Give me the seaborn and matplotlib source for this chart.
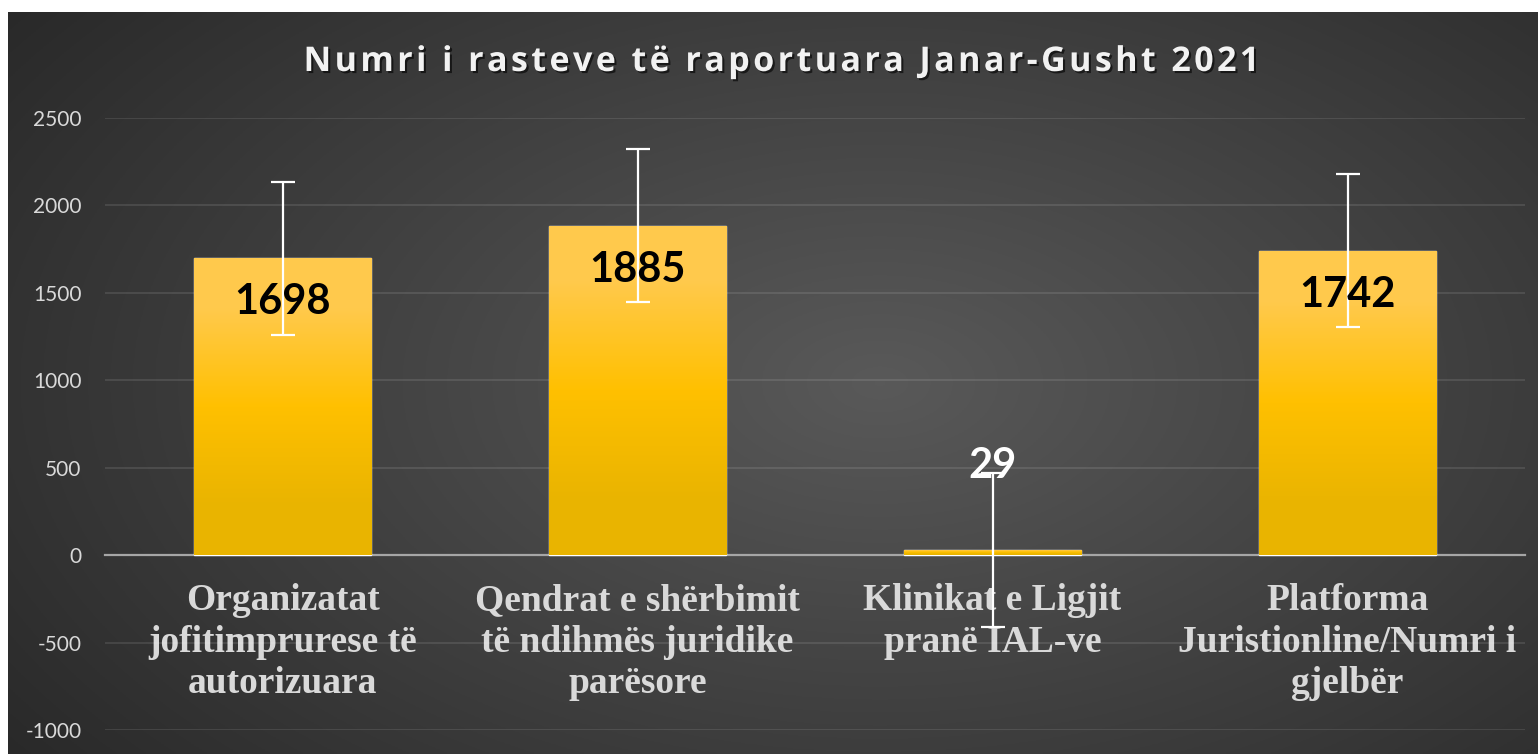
import numpy as np
import pandas as pd
import matplotlib.pyplot as plt
import matplotlib.patheffects as pe
import seaborn as sns

# data
categories = [
    'Organizatat\njofitimprurese të\nautorizuara',
    'Qendrat e shërbimit\ntë ndihmës juridike\nparësore',
    'Klinikat e Ligjit\npranë IAL-ve',
    'Platforma\nJuristionline/Numri i\ngjelbër',
]
values = [1698, 1885, 29, 1742]
errors = [438, 438, 438, 438]  # standard error bars, same for each bar
y_ticks = [-1000, -500, 0, 500, 1000, 1500, 2000, 2500]
title = 'Numri i rasteve të raportuara Janar-Gusht 2021'

sns.set_style('dark')
plt.rcParams['font.family'] = ['Lato', 'DejaVu Sans']
plt.rcParams['axes.unicode_minus'] = False

W, H = 1538, 754
fig = plt.figure(figsize=(W / 100, H / 100), dpi=100, facecolor='white')

# dark radial background of the chart area
bg = fig.add_axes([8 / W, 0, 1 - 8 / W, 1 - 12 / H], zorder=-1)
yy, xx = np.mgrid[0:1:300j, 0:1:600j]
d = np.sqrt(((xx - 0.57) / 0.75) ** 2 + ((yy - 0.5) / 0.9) ** 2)
g = np.clip(0.35 - 0.2 * d, 0.15, 0.4)
bg.imshow(np.dstack([g, g, g]), aspect='auto', extent=[0, 1, 0, 1], origin='lower')
bg.axis('off')

ax = fig.add_axes([105 / W, 1 - 730 / H, 1420 / W, 612 / H])
ax.patch.set_alpha(0)

df = pd.DataFrame({'kategoria': categories, 'raste': values})
sns.barplot(data=df, x='kategoria', y='raste', width=0.5, color='#ffc000',
            saturation=1, errorbar=None, ax=ax, zorder=3)

# gold gradient on each bar
grad = np.array([[0.914, 0.706, 0.0], [1.0, 0.753, 0.0], [1.0, 0.79, 0.30]])
for p in ax.patches:
    x0, y0, w, h = p.get_x(), p.get_y(), p.get_width(), p.get_height()
    im = ax.imshow(grad[:, None, :], extent=[x0, x0 + w, y0, y0 + h], origin='lower',
                   aspect='auto', interpolation='bilinear', zorder=3.1)
    im.set_clip_path(p)

ax.errorbar(x=range(len(values)), y=values, yerr=errors, fmt='none', ecolor='white',
            elinewidth=1.6, capsize=8.5, capthick=1.6, zorder=5)

for i, v in enumerate(values):
    if v > 500:
        ax.annotate(f'{v}', (i, v), xytext=(0, -18), textcoords='offset points',
                    ha='center', va='top', fontsize=30, fontweight='bold',
                    color='black', zorder=6)
    else:
        ax.annotate(f'{v}', (i, v), xytext=(0, 52), textcoords='offset points',
                    ha='center', va='baseline', fontsize=30, fontweight='bold',
                    color='white', zorder=6)

ax.set_xlim(-0.5, len(values) - 0.5)
ax.set_ylim(-1000, 2500)
ax.set_yticks(y_ticks)
ax.set_xlabel('')
ax.set_ylabel('')
for s in ['left', 'right', 'top']:
    ax.spines[s].set_visible(False)
ax.spines['bottom'].set_position(('data', 0))
ax.spines['bottom'].set_color('#a6a6a6')
ax.spines['bottom'].set_linewidth(1.6)
ax.spines['bottom'].set_zorder(2.5)
ax.grid(axis='y', color='white', alpha=0.1, lw=1.5)
ax.grid(axis='x', visible=False)

ax.tick_params(axis='y', length=0, pad=17, labelsize=15, labelcolor='#d9d9d9')
ax.tick_params(axis='x', length=0, pad=20, labelsize=27, labelcolor='#d9d9d9')
for lbl in ax.get_xticklabels():
    lbl.set_fontfamily('Liberation Serif')
    lbl.set_fontweight('bold')
    lbl.set_linespacing(1.25)

spaced = '\u200a'.join(title)
fig.text(780 / W, 1 - 62 / H, spaced, ha='center', va='center', fontsize=24.5,
         fontweight='bold', family=['Open Sans', 'DejaVu Sans'], color='#f2f2f2',
         path_effects=[pe.withSimplePatchShadow(offset=(1.5, -1.5),
                                                shadow_rgbFace='black', alpha=0.6)])

fig.savefig('out.png', dpi=100)
